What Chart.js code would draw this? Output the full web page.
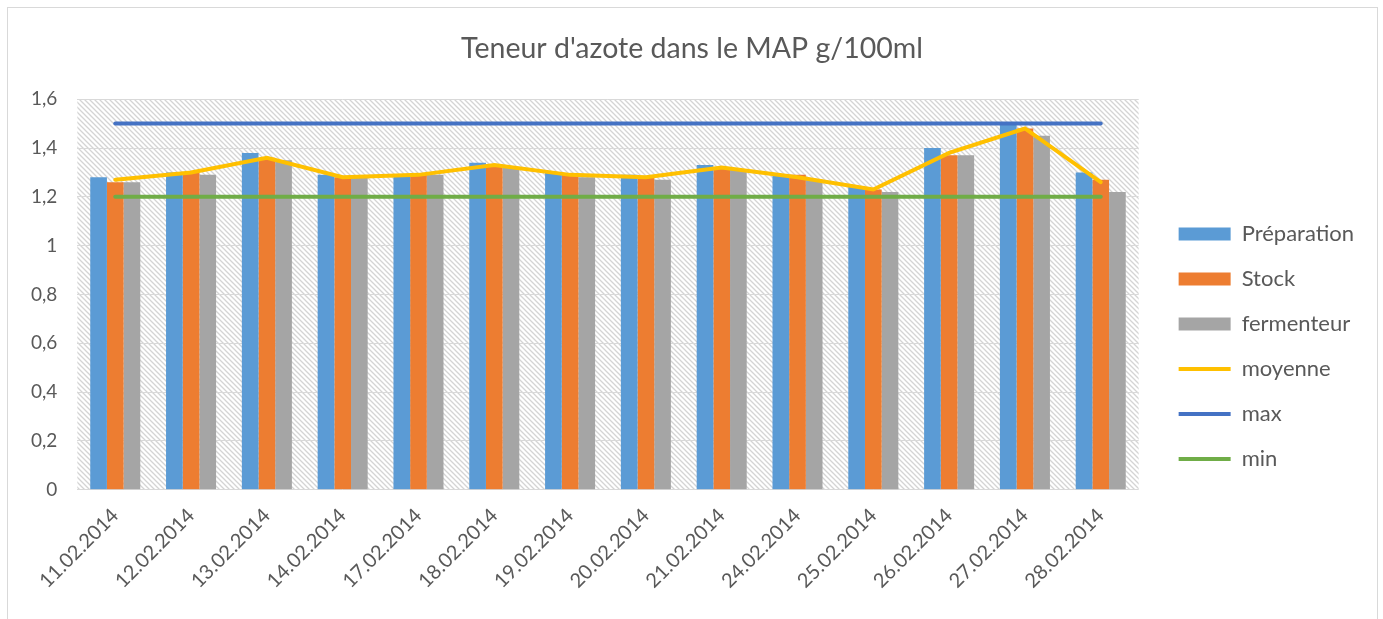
<!DOCTYPE html>
<html>
<head>
<meta charset="utf-8">
<script src="https://cdn.jsdelivr.net/npm/chart.js"></script>
<style>
  html, body { margin: 0; padding: 0; background: #fff; }
  #wrap { width: 1383px; height: 619px; }
</style>
</head>
<body>
<div id="wrap"><canvas id="chart" width="1383" height="619"></canvas></div>
<script>
const categories = ['11.02.2014', '12.02.2014', '13.02.2014', '14.02.2014', '17.02.2014', '18.02.2014', '19.02.2014',
    '20.02.2014', '21.02.2014', '24.02.2014', '25.02.2014', '26.02.2014', '27.02.2014', '28.02.2014'];
const preparation = [1.28, 1.30, 1.38, 1.29, 1.29, 1.34, 1.30, 1.29, 1.33, 1.29, 1.24, 1.40, 1.50, 1.30];
const stock       = [1.26, 1.30, 1.36, 1.28, 1.29, 1.33, 1.29, 1.28, 1.32, 1.29, 1.23, 1.37, 1.48, 1.27];
const fermenteur  = [1.26, 1.29, 1.35, 1.28, 1.29, 1.32, 1.28, 1.27, 1.31, 1.27, 1.22, 1.37, 1.45, 1.22];
const moyenne     = [1.27, 1.30, 1.36, 1.28, 1.29, 1.33, 1.29, 1.28, 1.32, 1.28, 1.23, 1.38, 1.48, 1.26];
const maxLimit    = [1.5, 1.5, 1.5, 1.5, 1.5, 1.5, 1.5, 1.5, 1.5, 1.5, 1.5, 1.5, 1.5, 1.5];
const minLimit    = [1.2, 1.2, 1.2, 1.2, 1.2, 1.2, 1.2, 1.2, 1.2, 1.2, 1.2, 1.2, 1.2, 1.2];
const yTicks = ['0', '0,2', '0,4', '0,6', '0,8', '1', '1,2', '1,4', '1,6'];

const FONT = 'Lato, "Open Sans", sans-serif';
const TEXT = '#595959';

// hatched plot background + outer frame
function makeHatch() {
    const c = document.createElement('canvas');
    c.width = 5; c.height = 5;
    const g = c.getContext('2d');
    g.strokeStyle = '#d4d4d4';
    g.lineWidth = 1.3;
    g.beginPath();
    g.moveTo(-1, -1); g.lineTo(6, 6);
    g.moveTo(-1, 4); g.lineTo(1, 6);
    g.moveTo(4, -1); g.lineTo(6, 1);
    g.stroke();
    return c;
}

const backdrop = {
    id: 'backdrop',
    beforeDraw(chart) {
        const { ctx, chartArea: a } = chart;
        ctx.save();
        ctx.fillStyle = '#fff';
        ctx.fillRect(0, 0, chart.width, chart.height);
        ctx.fillStyle = ctx.createPattern(makeHatch(), 'repeat');
        ctx.fillRect(a.left, a.top, a.right - a.left, a.bottom - a.top);
        ctx.strokeStyle = '#d9d9d9';
        ctx.lineWidth = 1;
        ctx.strokeRect(7.5, 7.5, chart.width - 13, chart.height + 20);
        ctx.restore();
    }
};

// excel puts the legend a bit lower and further right than chart.js does,
// and centres the title on the whole frame
const shiftBoxes = {
    id: 'shiftBoxes',
    afterLayout(chart) {
        const lg = chart.legend;
        lg.top += 47; lg.bottom += 47;
        lg.left += 17; lg.right += 17;
        const t = chart.titleBlock;
        t.left += 13; t.right += 13;
    }
};

const barSet = (label, data, color) => ({
    type: 'bar', label, data, backgroundColor: color, borderWidth: 0,
    pointStyle: 'rect', order: 2,
    barPercentage: 1, categoryPercentage: 0.66
});
const lineSet = (label, data, color) => ({
    type: 'line', label, data, borderColor: color, backgroundColor: color,
    borderWidth: 4, pointRadius: 0, tension: 0, pointStyle: 'line',
    borderCapStyle: 'round', order: 1
});

new Chart(document.getElementById('chart').getContext('2d'), {
    data: {
        labels: categories,
        datasets: [
            barSet('Préparation', preparation, '#5b9bd5'),
            barSet('Stock', stock, '#ed7d31'),
            barSet('fermenteur', fermenteur, '#a5a5a5'),
            lineSet('moyenne', moyenne, '#ffc000'),
            lineSet('max', maxLimit, '#4472c4'),
            lineSet('min', minLimit, '#70ad47')
        ]
    },
    options: {
        responsive: false,
        animation: false,
        layout: { padding: { left: 11, right: 36, top: 0, bottom: 20 } },
        plugins: {
            title: {
                display: true,
                text: "Teneur d'azote dans le MAP g/100ml",
                color: TEXT,
                font: { family: FONT, size: 28.5, weight: 'normal' },
                padding: { top: 32, bottom: 33 }
            },
            legend: {
                position: 'right',
                labels: {
                    color: TEXT,
                    font: { family: FONT, size: 22 },
                    usePointStyle: true,
                    pointStyleWidth: 52,
                    boxHeight: 13,
                    padding: 23,
                    sort: (a, b) => a.datasetIndex - b.datasetIndex
                }
            },
            tooltip: { enabled: false }
        },
        scales: {
            x: {
                grid: { display: false },
                border: { display: false },
                ticks: {
                    color: TEXT,
                    font: { family: FONT, size: 20 },
                    minRotation: 45, maxRotation: 45,
                    padding: 6
                }
            },
            y: {
                min: 0, max: 1.6,
                border: { display: false },
                grid: { color: '#d9d9d9', lineWidth: 1, drawTicks: false },
                ticks: {
                    stepSize: 0.2,
                    color: TEXT,
                    font: { family: FONT, size: 19 },
                    padding: 20,
                    callback: (v, i) => yTicks[i]
                }
            }
        }
    },
    plugins: [backdrop, shiftBoxes]
});
</script>
</body>
</html>
